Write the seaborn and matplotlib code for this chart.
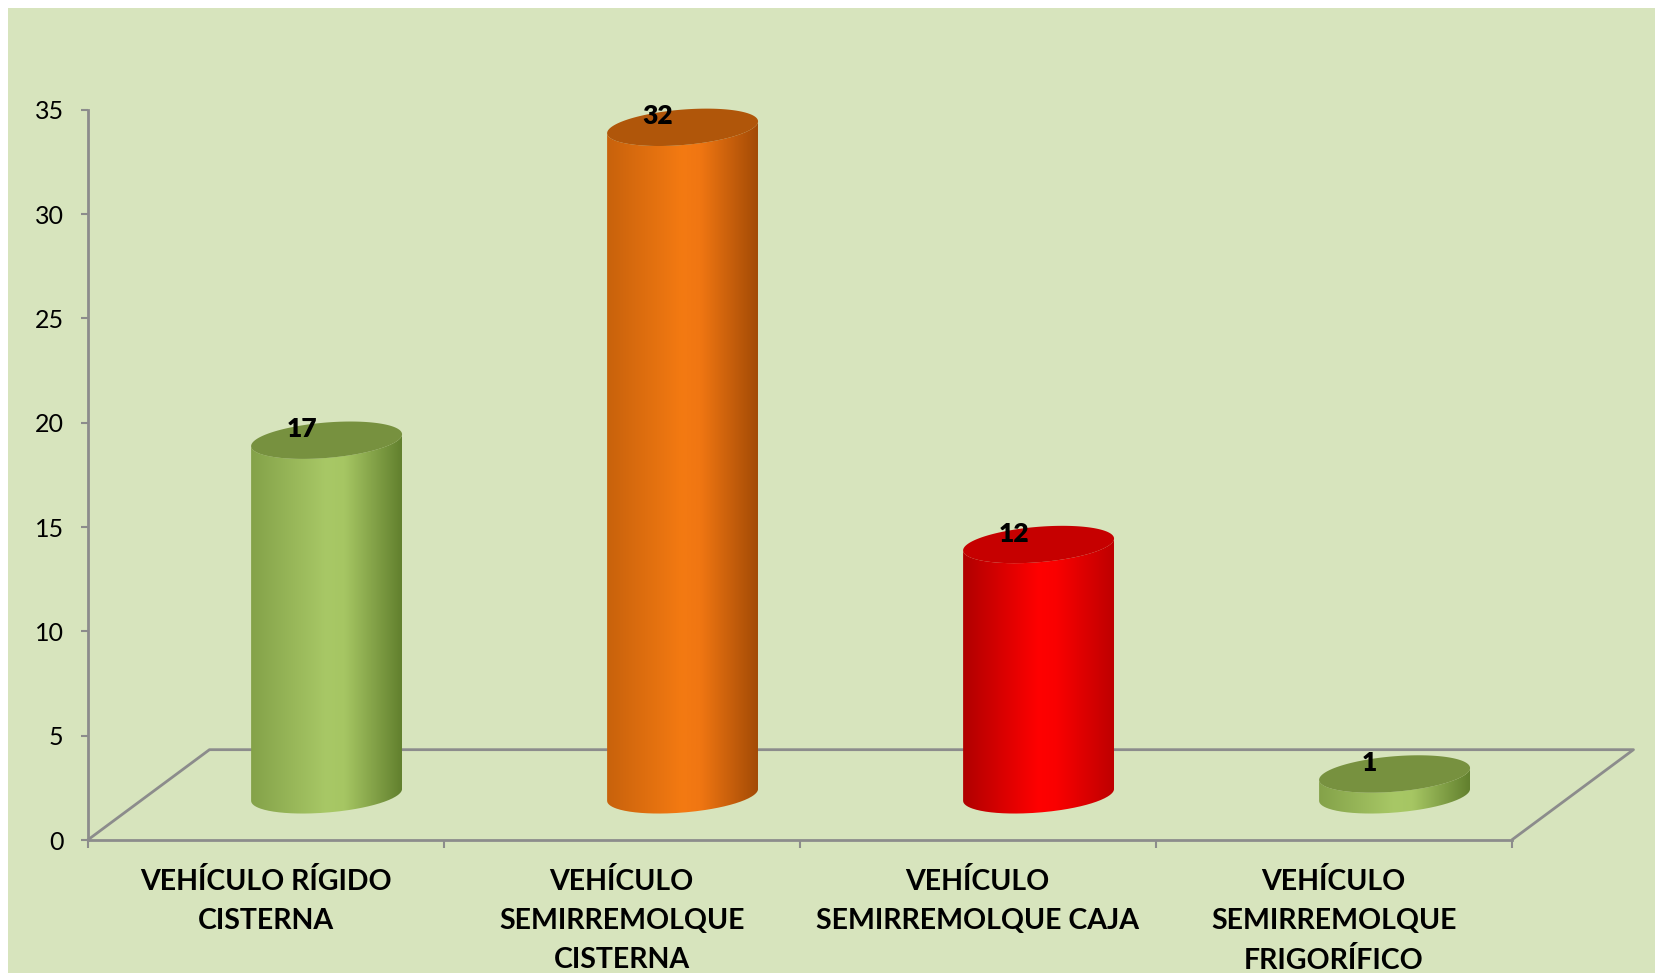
import numpy as np
import pandas as pd
import matplotlib
matplotlib.use("Agg")
import matplotlib.pyplot as plt
import seaborn as sns
from matplotlib.path import Path
from matplotlib.patches import PathPatch, Rectangle
from matplotlib.colors import LinearSegmentedColormap

# ---- data ----
categories = ["VEHÍCULO RÍGIDO CISTERNA", "VEHÍCULO SEMIRREMOLQUE CISTERNA",
              "VEHÍCULO SEMIRREMOLQUE CAJA", "VEHÍCULO SEMIRREMOLQUE FRIGORÍFICO"]
tick_labels = ["VEHÍCULO RÍGIDO\nCISTERNA", "VEHÍCULO\nSEMIRREMOLQUE\nCISTERNA",
               "VEHÍCULO\nSEMIRREMOLQUE CAJA", "VEHÍCULO\nSEMIRREMOLQUE\nFRIGORÍFICO"]
values = [17, 32, 12, 1]
y_ticks = [0, 5, 10, 15, 20, 25, 30, 35]

# ---- styles ----
BG = "#D7E4BD"
AXIS_GRAY = "#8C8C8C"
body_colors = [
    ["#84A249", "#A8C866", "#A6C663", "#62802E"],
    ["#C8620C", "#F47A12", "#F07612", "#A34B06"],
    ["#B00000", "#FF0000", "#FA0000", "#BE0000"],
    ["#84A249", "#A8C866", "#A6C663", "#62802E"],
]
top_colors = ["#77913F", "#B0560A", "#C60000", "#77913F"]

sns.set_theme(style="white")
plt.rcParams["font.family"] = ["Lato", "DejaVu Sans"]

W, H, DPI = 1656, 973, 100
fig = plt.figure(figsize=(W / DPI, H / DPI), dpi=DPI)
fig.patch.set_facecolor(BG)
fig.add_artist(Rectangle((0, 1 - 8 / H), 1, 8 / H, transform=fig.transFigure,
                         facecolor="white", edgecolor="none", zorder=-10))
fig.add_artist(Rectangle((0, 0), 8 / W, 1, transform=fig.transFigure,
                         facecolor="white", edgecolor="none", zorder=-10))

# depth offsets (pseudo-3D floor) in data units
DX = 0.342
DY = 4.33
XMIN, XMAX = -0.5, 3.5 + DX
YMIN, YMAX = 0, 38.5
px_per_x = 356.0
px_per_y = 20.86
left_px = 87.7
bottom_px = H - 840
ax = fig.add_axes([left_px / W, bottom_px / H,
                   (XMAX - XMIN) * px_per_x / W, (YMAX - YMIN) * px_per_y / H])
ax.set_facecolor("none")

df = pd.DataFrame({"category": categories, "value": values})
sns.barplot(data=df, x="category", y="value", width=0.424, ax=ax,
            color="white", errorbar=None)

# floor outline
ax.plot([XMIN, XMIN + DX, 3.5 + DX, 3.5], [0, DY, DY, 0],
        color=AXIS_GRAY, lw=2.0, zorder=1, solid_capstyle="butt", clip_on=False)

b = 0.85        # ellipse half height (value units)
shear = 1.34    # tilt of the ellipses (value units per category unit)
tt = np.linspace(0, 2 * np.pi, 200)

for i, p in enumerate(ax.patches):
    x0, w, h = p.get_x(), p.get_width(), p.get_height()
    p.set_visible(False)
    a = w / 2
    cx = x0 + a + DX / 2
    yb = DY / 2
    yt = h + DY / 2

    t_low = np.linspace(np.pi, 2 * np.pi, 100)
    bot_x = cx + a * np.cos(t_low)
    bot_y = yb + b * np.sin(t_low) + shear * a * np.cos(t_low)
    top_x = cx + a * np.cos(t_low)
    top_y = yt + b * np.sin(t_low) + shear * a * np.cos(t_low)
    verts = np.concatenate([
        np.column_stack([bot_x, bot_y]),
        np.column_stack([top_x[::-1], top_y[::-1]]),
    ])
    verts = np.vstack([verts, verts[:1]])
    body = PathPatch(Path(verts), facecolor="none", edgecolor="none",
                     transform=ax.transData)
    ax.add_patch(body)
    cmap = LinearSegmentedColormap.from_list(
        f"cyl{i}", list(zip([0.0, 0.5, 0.62, 1.0], body_colors[i])))
    grad = np.linspace(0, 1, 256).reshape(1, -1)
    im = ax.imshow(grad, cmap=cmap, aspect="auto", interpolation="bilinear",
                   extent=[cx - a, cx + a, yb - b - 1, yt + b + 1], zorder=3)
    im.set_clip_path(body)

    top = np.column_stack([cx + a * np.cos(tt),
                           yt + b * np.sin(tt) + shear * a * np.cos(tt)])
    ax.add_patch(PathPatch(Path(top), facecolor=top_colors[i], edgecolor="none",
                           zorder=4, transform=ax.transData))
    ax.text(cx - 0.07, yt + 0.52, f"{values[i]}", ha="center", va="center",
            fontsize=19, fontweight="heavy", color="black", zorder=5)

ax.set_xlim(XMIN, XMAX)
ax.set_ylim(YMIN, YMAX)

for s in ["top", "right"]:
    ax.spines[s].set_visible(False)
ax.spines["left"].set_bounds(0, 35)
ax.spines["bottom"].set_bounds(-0.5, 3.5)
for s in ["left", "bottom"]:
    ax.spines[s].set_color(AXIS_GRAY)
    ax.spines[s].set_linewidth(2.0)
    ax.spines[s].set_zorder(2)

ax.set_yticks(y_ticks)
ax.set_yticklabels([str(v) for v in y_ticks], fontsize=18, color="black")
ax.tick_params(axis="y", direction="out", length=5.3, width=1.5,
               color=AXIS_GRAY, pad=12, left=True)

ax.set_xticks(range(len(tick_labels)))
ax.set_xticklabels(tick_labels, fontsize=20.5, fontweight="bold", color="black",
                   linespacing=1.62)
ax.set_xticks([-0.5, 0.5, 1.5, 2.5, 3.5], minor=True)
ax.tick_params(axis="x", which="major", length=0, pad=20)
ax.tick_params(axis="x", which="minor", direction="out", length=6, width=1.5,
               color=AXIS_GRAY, bottom=True)
ax.set_xlabel("")
ax.set_ylabel("")

fig.savefig("out.png", dpi=DPI, facecolor=fig.get_facecolor())
